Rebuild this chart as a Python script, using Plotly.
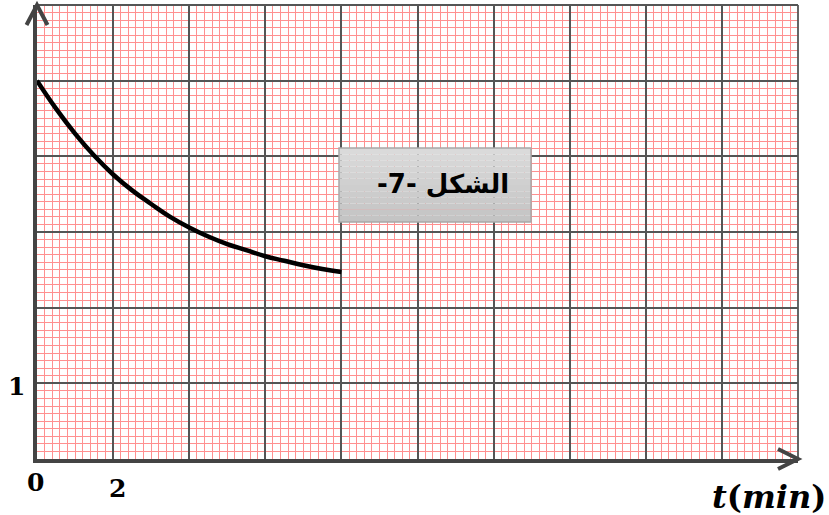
import plotly.graph_objects as go

# Data
t_min = [0, 0.5, 1, 1.5, 2, 2.5, 3, 3.5, 4, 4.5, 5, 5.5, 6, 6.5, 7, 7.5, 8]
values = [5.00, 4.63, 4.30, 4.01, 3.76, 3.55, 3.37, 3.20, 3.06, 2.94, 2.84, 2.76, 2.68, 2.62, 2.56, 2.51, 2.47]

x_range = [0, 20]
y_range = [0, 6]
x_labels = [(0, "0", -23), (2, "2", -29)]
y_labels = [(1, "1")]

fig = go.Figure()
fig.add_trace(go.Scatter(x=t_min, y=values, mode="lines",
                         line=dict(color="black", width=4.5, shape="spline", smoothing=1.3),
                         hoverinfo="skip", showlegend=False))

grid_major = "#555555"
grid_minor = "#ff9090"
axis_col = "#444444"

fig.update_xaxes(range=x_range, dtick=2, showgrid=True, gridcolor=grid_major, gridwidth=1.5,
                 minor=dict(dtick=0.2, showgrid=True, gridcolor=grid_minor, gridwidth=1),
                 showline=True, linecolor=axis_col, linewidth=4, zeroline=False,
                 showticklabels=False, ticks="", fixedrange=True)
fig.update_yaxes(range=y_range, dtick=1, showgrid=True, gridcolor=grid_major, gridwidth=1.5,
                 minor=dict(dtick=0.1, showgrid=True, gridcolor=grid_minor, gridwidth=1),
                 showline=True, linecolor=axis_col, linewidth=4, zeroline=False,
                 showticklabels=False, ticks="", fixedrange=True)

W, H = 829, 515
ml, mr, mt, mb = 37, 31, 5, 56
pw, ph = W - ml - mr, H - mt - mb

shapes = []
# top & right border lines
shapes.append(dict(type="line", xref="paper", yref="paper", x0=0, x1=1, y0=1, y1=1,
                   line=dict(color=grid_major, width=1.8)))
shapes.append(dict(type="line", xref="paper", yref="paper", x0=1, x1=1, y0=0, y1=1,
                   line=dict(color=grid_major, width=1.8)))
# arrowheads (chevrons)
dx, dy = 10.5 / pw, 20 / ph
shapes.append(dict(type="path", xref="paper", yref="paper",
                   path=f"M {-dx} {1-dy} L 0 1 L {dx} {1-dy}",
                   line=dict(color=axis_col, width=4)))
ax_, ay_ = 20 / pw, 10 / ph
shapes.append(dict(type="path", xref="paper", yref="paper",
                   path=f"M {1-ax_} {ay_} L 1 0 L {1-ax_} {-ay_}",
                   line=dict(color=axis_col, width=4)))
# label box
bx0, bx1 = (339 - ml) / pw, (531 - ml) / pw
by0, by1 = (H - mb - 222) / ph, (H - mb - 148) / ph
nb = 12
for i in range(nb):
    c = int(218 - (218 - 196) * i / (nb - 1))
    shapes.append(dict(type="rect", xref="paper", yref="paper", x0=bx0,
                       x1=bx1, y0=by1 - (by1 - by0) * (i + 1) / nb, y1=by1 - (by1 - by0) * i / nb,
                       fillcolor=f"rgb({c},{c},{c})", line=dict(width=0), layer="above"))
shapes.append(dict(type="rect", xref="paper", yref="paper", x0=bx0, x1=bx1, y0=by0, y1=by1,
                   fillcolor="rgba(0,0,0,0)", line=dict(color="#a8a8a8", width=1.5), layer="above"))

ann = []
numfont = dict(family="DejaVu Serif", size=25, color="black")
for xv, txt, ys in x_labels:
    ann.append(dict(x=xv, y=0, xref="x", yref="y", text=f"<b>{txt}</b>", showarrow=False,
                    yshift=ys, xshift=(-2 if xv == 0 else 4), font=numfont))
for yv, txt in y_labels:
    ann.append(dict(x=0, y=yv, xref="x", yref="y", text=f"<b>{txt}</b>", showarrow=False,
                    xshift=-21, yshift=-3, font=numfont))
ann.append(dict(x=(828 - ml) / pw, y=(H - mb - 497) / ph, xref="paper", yref="paper",
                xanchor="right", yanchor="middle", text="<b><i>t</i>(<i>min</i>)</b>",
                showarrow=False, font=dict(family="DejaVu Serif", size=32, color="black")))
ann.append(dict(x=(511 - ml) / pw, y=(H - mb - 184) / ph, xref="paper", yref="paper",
                xanchor="right", yanchor="middle", text="<b>\u202bالشكل -7-\u202c</b>",
                showarrow=False, font=dict(family="DejaVu Sans", size=26, color="black")))

fig.update_layout(width=W, height=H, margin=dict(l=ml, r=mr, t=mt, b=mb),
                  paper_bgcolor="white", plot_bgcolor="white",
                  shapes=shapes, annotations=ann, showlegend=False)

fig.write_html("out.html", config=dict(displayModeBar=False),
               post_script="document.body.style.margin='0';document.body.style.overflow='hidden';")
